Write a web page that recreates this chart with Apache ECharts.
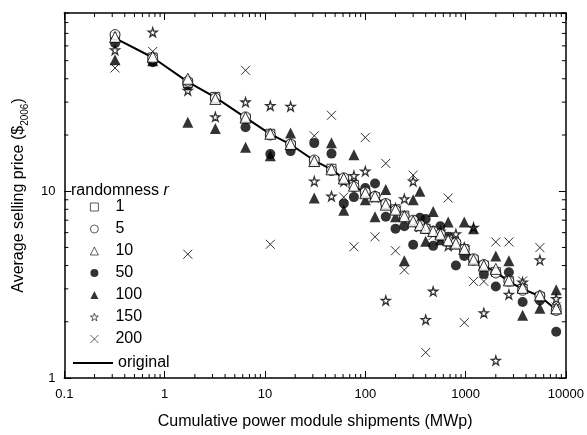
<!DOCTYPE html>
<html>
<head>
<meta charset="utf-8">
<script src="https://cdn.jsdelivr.net/npm/echarts@6.0.0/dist/echarts.min.js"></script>
<style>
  html, body { margin: 0; padding: 0; background: #fff; }
  #chart { width: 587px; height: 435px; }
</style>
</head>
<body>
<div id="chart"></div>
<script>
// cumulative shipments (MWp) for each year of the series
const shipments = [0.32, 0.76, 1.7, 3.2, 6.4, 11.3, 18, 31, 46, 61, 77, 100, 125, 160, 200, 245, 300, 350, 400, 475, 560, 670, 800, 970, 1200, 1520, 2000, 2700, 3700, 5500, 8000]

// average selling price, $2006
const original = [66, 52, 38.5, 31.8, 24.8, 20.2, 17.8, 14.6, 13.1, 11.7, 10.7, 9.76, 9.35, 8.47, 7.97, 7.35, 6.9, 6.58, 6.37, 6.12, 5.87, 5.46, 5.25, 4.95, 4.3, 4.0, 3.7, 3.28, 3.0, 2.74, 2.32]
const r1 = [67, 52, 38, 32, 24.6, 20.3, 17.6, 14.4, 13.2, 11.6, 10.8, 9.8, 9.3, 8.5, 8.0, 7.4, 6.9, 6.5, 6.3, 6.1, 5.8, 5.5, 5.2, 4.9, 4.3, 4.0, 3.7, 3.3, 3.0, 2.72, 2.33]
const r5 = [69, 51.5, 38.8, 31.5, 25, 20, 17.9, 14.7, 12.9, 11.8, 10.6, 9.9, 9.4, 8.6, 7.9, 7.3, 7.0, 6.6, 6.3, 6.1, 5.9, 5.4, 5.3, 4.9, 4.35, 4.05, 3.65, 3.3, 2.95, 2.75, 2.3]
const r10 = [67, 52.5, 40, 31.2, 24.8, 20.3, 17.9, 14.5, 13.1, 11.7, 10.7, 9.76, 9.4, 8.47, 7.97, 7.35, 6.9, 6.58, 6.37, 6.12, 5.87, 5.46, 5.25, 4.9, 4.3, 4.0, 3.84, 3.33, 3.04, 2.77, 2.36]
const r50 = [62, 49, 36.8, 31.5, 22, 15.8, 16.4, 18.1, 15.9, 8.6, 9.3, 10.4, 11.0, 7.3, 6.3, 6.5, 5.17, 7.2, 7.1, 5.1, 6.5, 5.7, 4.0, 4.5, 4.25, 3.6, 3.09, 3.68, 2.55, 2.6, 1.77]
const r100 = [50.6, 50, 23.4, 21.7, 17.2, 15.5, 20.5, 9.2, 18.2, 7.9, 15.7, 9.0, 7.3, 10.2, 7.3, 4.25, 9.0, 10.0, 5.4, 7.8, 5.5, 6.85, 5.3, 6.85, 6.3, 4.07, 4.5, 4.25, 2.17, 2.36, 2.97]
const r150 = [57, 71, 34.6, 25, 30, 28.7, 28.4, 11.3, 9.4, 11.3, 12.1, 12.8, 9.3, 2.6, 8.1, 9.1, 11.3, 6.5, 2.05, 2.91, 6.1, 5.1, 5.9, 5.0, 6.4, 2.23, 1.24, 2.8, 3.26, 4.28, 2.66]
const r200 = [45.7, 56, 4.6, 31, 44.4, 5.2, 17.5, 19.8, 25.5, 9.3, 5.04, 19.4, 5.7, 14.1, 4.8, 3.79, 12.2, 6.4, 1.37, 5.8, 5.5, 9.2, 5.1, 1.98, 3.29, 3.29, 5.35, 5.35, 3.31, 4.99, 2.4]

const xTickLabels = ['0.1', '1', '10', '100', '1000', '10000']

// minor tick positions on the log axes
const minorX = []
;[0.1, 1, 10, 100, 1000].forEach(d => { for (let k = 2; k <= 9; k++) minorX.push(d * k) })
const minorY = []
;[1, 10].forEach(d => { for (let k = 2; k <= 9; k++) minorY.push(d * k) })

const FONT = 'Liberation Sans'
const starPath = 'path://M50,2 L61,36 L97,36 L68,57 L79,92 L50,71 L21,92 L32,57 L3,36 L39,36 Z'
const crossPath = 'path://M0,0 L10,10 M10,0 L0,10'

const pairs = ys => shipments.map((x, i) => [x, ys[i]])

const chart = echarts.init(document.getElementById('chart'))

const tickSeries = (vals, isX) => ({
  type: 'custom',
  silent: true,
  z: 1,
  data: vals.map(v => isX ? [v, 10] : [1, v]),
  renderItem: (params, api) => {
    const cs = params.coordSys
    const p = api.coord([api.value(0), api.value(1)])
    const st = { stroke: '#000', lineWidth: 1 }
    const len = 4
    if (isX) {
      return {
        type: 'group',
        children: [
          { type: 'line', shape: { x1: p[0], y1: cs.y + cs.height, x2: p[0], y2: cs.y + cs.height - len }, style: st },
          { type: 'line', shape: { x1: p[0], y1: cs.y, x2: p[0], y2: cs.y + len }, style: st }
        ]
      }
    }
    return {
      type: 'group',
      children: [
        { type: 'line', shape: { x1: cs.x, y1: p[1], x2: cs.x + len, y2: p[1] }, style: st },
        { type: 'line', shape: { x1: cs.x + cs.width, y1: p[1], x2: cs.x + cs.width - len, y2: p[1] }, style: st }
      ]
    }
  }
})

const axisBase = {
  axisLine: { show: true, lineStyle: { color: '#000', width: 1.5 } },
  axisTick: { show: true, inside: true, length: 7, lineStyle: { color: '#000', width: 1 } },
  splitLine: { show: false }
}

const option = {
  backgroundColor: '#fff',
  animation: false,
  textStyle: { fontFamily: FONT, color: '#000' },
  grid: { left: 64, right: 21, top: 13, bottom: 53 },
  title: {
    text: '{a|randomness }{b|r}',
    left: 71,
    top: 183,
    padding: 0,
    textStyle: {
      fontWeight: 'normal',
      rich: {
        a: { fontFamily: FONT, fontSize: 16, fontWeight: 'normal', color: '#000' },
        b: { fontFamily: FONT, fontSize: 16, fontWeight: 'normal', color: '#000', fontStyle: 'italic' }
      }
    }
  },
  legend: [
    {
      data: ['1', '5', '10', '50', '100', '150', '200'],
      orient: 'vertical',
      left: 90,
      top: 199,
      padding: 0,
      itemWidth: 8,
      itemHeight: 8,
      itemGap: 6,
      itemStyle: { borderWidth: 0.8 },
      textStyle: { fontFamily: FONT, fontSize: 16, lineHeight: 16, color: '#000', padding: [0, 0, 0, 12] }
    },
    {
      data: [{ name: 'original', icon: 'rect' }],
      left: 73,
      top: 355,
      padding: 0,
      itemWidth: 40,
      itemHeight: 2,
      textStyle: { fontFamily: FONT, fontSize: 16, color: '#000' }
    }
  ],
  xAxis: [
    Object.assign({}, axisBase, {
      type: 'log',
      logBase: 10,
      min: 0.1,
      max: 10000,
      splitNumber: 5,
      name: 'Cumulative power module shipments (MWp)',
      nameLocation: 'middle',
      nameGap: 36,
      nameTextStyle: { fontFamily: FONT, fontSize: 16, color: '#000' },
      axisLabel: {
        margin: 10,
        fontFamily: FONT,
        fontSize: 13,
        color: '#000',
        formatter: v => {
          const i = Math.round(Math.log10(v)) + 1
          return xTickLabels[i] || ''
        }
      }
    }),
    Object.assign({}, axisBase, {
      type: 'log',
      logBase: 10,
      min: 0.1,
      max: 10000,
      splitNumber: 5,
      position: 'top',
      axisLabel: { show: false }
    })
  ],
  yAxis: [
    Object.assign({}, axisBase, {
      type: 'log',
      logBase: 10,
      min: 1,
      max: 90,
      splitNumber: 2,
      name: 'Average selling price (${s|2006})',
      nameLocation: 'middle',
      nameGap: 33,
      nameTextStyle: {
        fontFamily: FONT,
        fontSize: 16,
        color: '#000',
        lineHeight: 22,
        rich: {
          s: { fontFamily: FONT, fontSize: 10, lineHeight: 10, verticalAlign: 'bottom', color: '#000' }
        }
      },
      axisLabel: {
        margin: 9,
        fontFamily: FONT,
        fontSize: 13,
        color: '#000',
        showMaxLabel: false,
        formatter: v => (v === 1 || v === 10) ? String(v) : ''
      }
    }),
    Object.assign({}, axisBase, {
      type: 'log',
      logBase: 10,
      min: 1,
      max: 90,
      splitNumber: 2,
      position: 'right',
      axisLabel: { show: false }
    })
  ],
  series: [
    tickSeries(minorX, true),
    tickSeries(minorY, false),
    {
      name: 'original',
      type: 'line',
      data: pairs(original),
      symbol: 'none',
      z: 2,
      lineStyle: { color: '#000', width: 2 },
      itemStyle: { color: '#000' }
    },
    {
      name: '200',
      type: 'scatter',
      data: pairs(r200),
      symbol: crossPath,
      symbolSize: 9,
      z: 3,
      itemStyle: { color: 'rgba(0,0,0,0)', borderColor: '#000', borderWidth: 1 }
    },
    {
      name: '150',
      type: 'scatter',
      data: pairs(r150),
      symbol: starPath,
      symbolSize: 9,
      z: 3,
      itemStyle: { color: '#fff', borderColor: '#000', borderWidth: 1.3 }
    },
    {
      name: '100',
      type: 'scatter',
      data: pairs(r100),
      symbol: 'triangle',
      symbolSize: 11,
      z: 3,
      itemStyle: { color: '#000' }
    },
    {
      name: '50',
      type: 'scatter',
      data: pairs(r50),
      symbol: 'circle',
      symbolSize: 10,
      z: 3,
      itemStyle: { color: '#000' }
    },
    {
      name: '1',
      type: 'scatter',
      data: pairs(r1),
      symbol: 'rect',
      symbolSize: 9,
      z: 4,
      itemStyle: { color: '#fff', borderColor: '#000', borderWidth: 1 }
    },
    {
      name: '5',
      type: 'scatter',
      data: pairs(r5),
      symbol: 'circle',
      symbolSize: 10,
      z: 4,
      itemStyle: { color: '#fff', borderColor: '#000', borderWidth: 1 }
    },
    {
      name: '10',
      type: 'scatter',
      data: pairs(r10),
      symbol: 'triangle',
      symbolSize: 11,
      z: 4,
      itemStyle: { color: '#fff', borderColor: '#000', borderWidth: 1 }
    }
  ]
}

chart.setOption(option)
</script>
</body>
</html>
